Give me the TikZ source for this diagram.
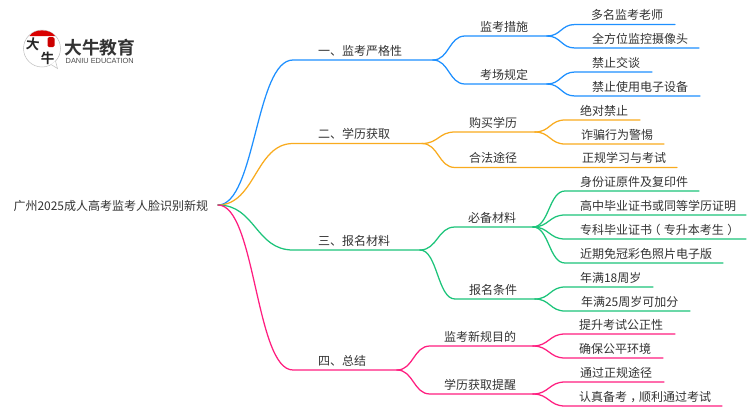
\documentclass[tikz,border=0pt]{standalone}
\usepackage{fontspec}
\usetikzlibrary{calc}
\setmainfont{Noto Sans CJK SC}
\newfontfamily\logofont[Scale=1]{Noto Sans CJK SC Bold}
\newfontfamily\latinlogo{Liberation Sans}
\definecolor{cblue}{HTML}{1E90FF}
\definecolor{corange}{HTML}{F9AB1E}
\definecolor{cgreen}{HTML}{1CC47A}
\definecolor{cpink}{HTML}{FF1E80}
\definecolor{ctext}{HTML}{333333}
\tikzset{
  lbl/.style={inner sep=0pt,outer sep=0pt,anchor=base west,text=ctext,font=\fontsize{12}{12}\selectfont},
  branch/.style={line width=1.25pt,line cap=round}
}
% colour, start, end of curve, end of straight run
\newcommand{\linkrun}[4]{%
  \coordinate (mid) at ($(#2)!.5!(#3)$);
  \draw[branch,#1] (#2) .. controls (mid |- #2) and (mid |- #3) .. (#3) -- (#4);
}
% full-width punctuation centred in its cell
\newcommand{\cellshift}[2]{\makebox[12pt][l]{\kern#1pt #2}}
\begin{document}
\begin{tikzpicture}[x=1pt,y=-1pt]
\useasboundingbox (0,0) rectangle (750,410);
\fill[white] (0,0) rectangle (750,410);

% logo
\draw[line width=.5pt,draw=black!25,fill=white] (42,48.5) circle (18.5);
\draw[line width=.5pt,draw=black!25,fill=white] (51,64.5) -- (57.5,68.5) -- (55.5,61);
\fill[red!85!black] (29.5,36) .. controls (34,28.5) and (50,28.5) .. (55,36) -- cycle;
\fill[red!80!black,rounded corners=1.5pt] (47.5,37) rectangle (54.5,47);
\node[inner sep=0pt,font=\logofont\fontsize{13.5}{13.5}\selectfont,text=black!85,rotate=-6] (lda) at (33,44.3) {大};
\node[inner sep=0pt,font=\logofont\fontsize{13.5}{13.5}\selectfont,text=black!85] (lniu) at (47.5,58.3) {牛};
\node[inner sep=0pt,anchor=base west,font=\logofont\fontsize{17.8}{18}\selectfont,text=black!80] (lname) at (64,54) {大牛教育};
\node[inner sep=0pt,anchor=base west,font=\latinlogo\fontsize{7.4}{7}\selectfont,text=black!70] (len) at (65.5,63.3) {DANIU EDUCATION};

% anchors
\coordinate (root) at (218,205);
\foreach \n/\x/\y in {
 a/293/60, ae/433/60,
 b/293/143.5, be/422/143.5,
 c/293/250, ce/420/250,
 d/293/370, de/397/370,
 a1/465/36, a1e/547/36, a2/465/84, a2e/547/84,
 b1/455/132, b1e/535/132, b2/455/167.5, b2e/677/167.5,
 c1/455/227, c1e/533/227, c2/455/299, c2e/535/299,
 d1/430/346, d1e/533/346, d2/430/394, d2e/533/394,
 a11/575/24.5, a11e/675/24.5, a12/575/48, a12e/699/48,
 a21/575/72, a21e/652/72, a22/575/96, a22e/700/96,
 b11/565/120, b11e/640/120, b12/565/144, b12e/664/144,
 c11/565/191, c11e/699/191, c12/565/215, c12e/746/215,
 c13/565/239, c13e/746/239, c14/565/263, c14e/723/263,
 c21/565/287, c21e/653/287, c22/565/311, c22e/690/311,
 d11/565/334, d11e/675/334, d12/565/358, d12e/663/358,
 d21/565/382, d21e/664/382, d22/565/406, d22e/722/406}
 {\coordinate (\n) at (\x,\y);}

% connectors
\linkrun{cblue}{root}{a}{ae}
\linkrun{corange}{root}{b}{be}
\linkrun{cgreen}{root}{c}{ce}
\linkrun{cpink}{root}{d}{de}
\linkrun{cblue}{ae}{a1}{a1e}
\linkrun{cblue}{ae}{a2}{a2e}
\linkrun{cblue}{a1e}{a11}{a11e}
\linkrun{cblue}{a1e}{a12}{a12e}
\linkrun{cblue}{a2e}{a21}{a21e}
\linkrun{cblue}{a2e}{a22}{a22e}
\linkrun{corange}{be}{b1}{b1e}
\linkrun{corange}{be}{b2}{b2e}
\linkrun{corange}{b1e}{b11}{b11e}
\linkrun{corange}{b1e}{b12}{b12e}
\linkrun{cgreen}{ce}{c1}{c1e}
\linkrun{cgreen}{ce}{c2}{c2e}
\linkrun{cgreen}{c1e}{c11}{c11e}
\linkrun{cgreen}{c1e}{c12}{c12e}
\linkrun{cgreen}{c1e}{c13}{c13e}
\linkrun{cgreen}{c1e}{c14}{c14e}
\linkrun{cgreen}{c2e}{c21}{c21e}
\linkrun{cgreen}{c2e}{c22}{c22e}
\linkrun{cpink}{de}{d1}{d1e}
\linkrun{cpink}{de}{d2}{d2e}
\linkrun{cpink}{d1e}{d11}{d11e}
\linkrun{cpink}{d1e}{d12}{d12e}
\linkrun{cpink}{d2e}{d21}{d21e}
\linkrun{cpink}{d2e}{d22}{d22e}

% texts
\node[lbl] (t0) at (13.5,210) {广州2025成人高考监考人脸识别新规};
\node[lbl] (ta) at (318,55) {一、监考严格性};
\node[lbl] (tb) at (318,138.5) {二、学历获取};
\node[lbl] (tc) at (318,245) {三、报名材料};
\node[lbl] (td) at (318,365) {四、总结};
\node[lbl] (ta1) at (480,31) {监考措施};
\node[lbl] (ta2) at (480,79) {考场规定};
\node[lbl] (tb1) at (469,127) {购买学历};
\node[lbl] (tb2) at (469,162.5) {合法途径};
\node[lbl] (tc1) at (468,222) {必备材料};
\node[lbl] (tc2) at (469,294) {报名条件};
\node[lbl] (td1) at (444,341) {监考新规目的};
\node[lbl] (td2) at (444,389) {学历获取提醒};
\node[lbl] (ta11) at (591,19.5) {多名监考老师};
\node[lbl] (ta12) at (592,43) {全方位监控摄像头};
\node[lbl] (ta21) at (592,67) {禁止交谈};
\node[lbl] (ta22) at (592,91) {禁止使用电子设备};
\node[lbl] (tb11) at (580,115) {绝对禁止};
\node[lbl] (tb12) at (581,139) {诈骗行为警惕};
\node[lbl] (tb21) at (582,162.5) {正规学习与考试};
\node[lbl] (tc11) at (580,186) {身份证原件及复印件};
\node[lbl] (tc12) at (580,210) {高中毕业证书或同等学历证明};
\node[lbl] (tc13) at (580,234) {专科毕业证书\cellshift{-3.5}{（}专升本考生\cellshift{3.5}{）}};
\node[lbl] (tc14) at (580,258) {近期免冠彩色照片电子版};
\node[lbl] (tc21) at (580,282) {年满18周岁};
\node[lbl] (tc22) at (581,306) {年满25周岁可加分};
\node[lbl] (td11) at (579,329) {提升考试公正性};
\node[lbl] (td12) at (579,353) {确保公平环境};
\node[lbl] (td21) at (580,377) {通过正规途径};
\node[lbl] (td22) at (579,401) {认真备考\cellshift{3.5}{，}顺利通过考试};
\end{tikzpicture}
\end{document}
